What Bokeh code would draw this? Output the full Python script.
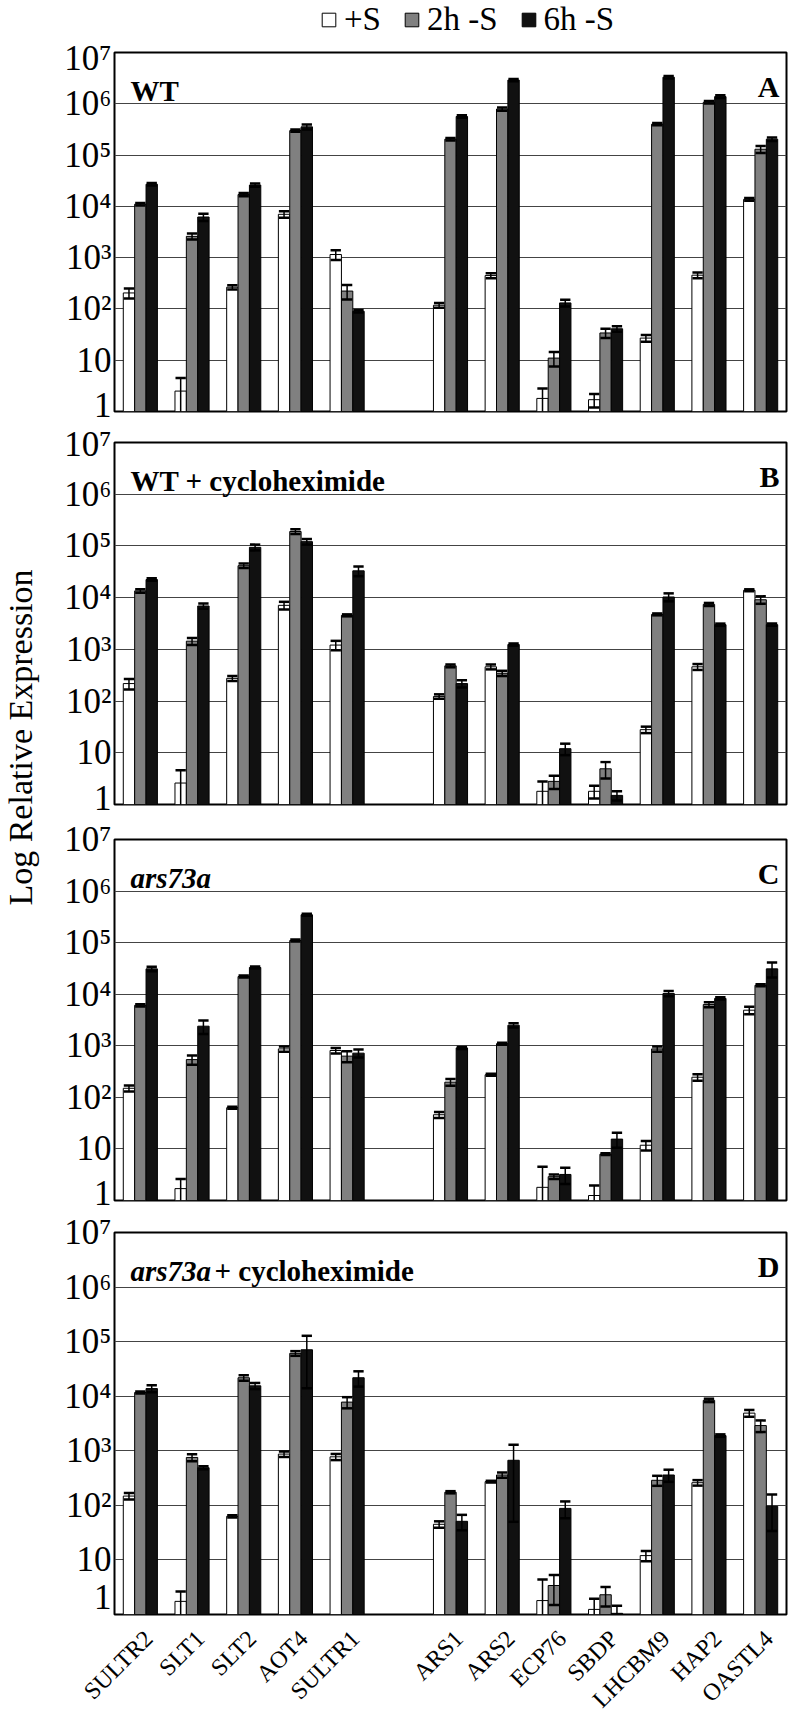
import numpy as np
from bokeh.plotting import figure
from bokeh.models import (ColumnDataSource, FactorRange, Range1d, FixedTicker, Label,
                          Legend, LegendItem)
from bokeh.layouts import row, column
from bokeh.transform import dodge
from bokeh.core.properties import value
from bokeh.embed import file_html
from bokeh.resources import INLINE

# ---------------- data ----------------
genes = ["SULTR2", "SLT1", "SLT2", "AOT4", "SULTR1",
         "ARS1", "ARS2", "ECP76", "SBDP", "LHCBM9", "HAP2", "OASTL4"]
spacer = " "
factors = genes[:5] + [spacer] + genes[5:]
series = ["+S", "2h -S", "6h -S"]
y_ticks = [1, 10, 100, 1000, 10000, 100000, 1000000, 10000000]
y_tick_labels = ["1", "10", "10²", "10³", "10⁴", "10⁵", "10⁶", "10⁷"]
y_title = "Log Relative Expression"

# Panel A: WT
A_plusS = [205, 2.5, 265, 7000, 1150, 118, 447, 1.8, 1.7, 27, 455, 13700]
A_2h = [11000, 2600, 17000, 300000, 223, 204000, 790000, 11, 34, 400000, 1070000, 130000]
A_6h = [27000, 6200, 26000, 355000, 90, 565000, 2900000, 131, 41, 3300000, 1380000, 204000]
A_plusS_err = [45, 2.0, 25, 1000, 250, 12, 50, 1.0, 0.5, 4, 60, 800]
A_2h_err = [600, 350, 1200, 15000, 70, 12000, 60000, 3.5, 7, 20000, 60000, 20000]
A_6h_err = [1500, 1000, 1800, 40000, 5, 30000, 150000, 20, 5, 200000, 80000, 15000]

# Panel B: WT + cycloheximide
B_plusS = [218, 2.6, 275, 7100, 1210, 123, 460, 1.8, 1.8, 28, 460, 13900]
B_2h = [13500, 1440, 41500, 190000, 4550, 480, 345, 2.8, 4.9, 4750, 7400, 9100]
B_6h = [22400, 6900, 94000, 121000, 33000, 218, 1240, 12, 1.5, 10300, 3000, 3000]
B_plusS_err = [50, 2.0, 30, 1200, 250, 12, 50, 1.0, 0.5, 4, 60, 600]
B_2h_err = [1000, 220, 4000, 20000, 200, 30, 40, 0.8, 1.7, 200, 500, 1500]
B_6h_err = [1200, 800, 12000, 15000, 7000, 35, 60, 3, 0.3, 1800, 150, 150]

# Panel C: ars73a
C_plusS = [150, 1.7, 63, 870, 810, 46, 274, 1.8, 1.25, 11.8, 246, 4900]
C_2h = [6100, 540, 22000, 110000, 630, 197, 1100, 2.9, 7.9, 870, 6300, 14900]
C_6h = [31000, 2400, 33000, 347000, 720, 910, 2500, 3.2, 15.5, 10300, 8300, 31000]
C_plusS_err = [20, 0.9, 3, 100, 100, 6, 12, 2.7, 0.7, 2.5, 35, 800]
C_2h_err = [300, 110, 1000, 5000, 150, 30, 50, 0.3, 0.3, 100, 700, 700]
C_6h_err = [3000, 700, 1500, 15000, 130, 40, 250, 1.1, 5, 1200, 400, 10000]

# Panel D: ars73a + cycloheximide
D_plusS = [148, 1.74, 63, 870, 775, 45, 272, 1.8, 1.24, 12, 260, 4900]
D_2h = [11700, 755, 21800, 61000, 7800, 174, 360, 3.4, 2.3, 288, 8400, 2900]
D_6h = [13800, 490, 15500, 71000, 21800, 51, 670, 88, 1.05, 360, 1900, 96]
D_plusS_err = [20, 0.9, 3, 100, 100, 6, 10, 2.6, 0.7, 2.5, 30, 700]
D_2h_err = [500, 110, 2500, 6000, 1800, 8, 40, 1.9, 0.9, 60, 600, 700]
D_6h_err = [2000, 30, 2000, 57000, 6800, 16, 620, 30, 0.4, 90, 100, 62]

# ---------------- style ----------------
SERIF = "Liberation Serif"
FILLS = ["white", "#808080", "#111111"]
BAR_W = 0.22
OFFS = [-0.22, 0.0, 0.22]
CAP_W = 0.20
MAIN_W = 748
BORDER_L = 74
BORDER_R = 2
FRAME_W = MAIN_W - BORDER_L - BORDER_R
TITLE_W = 40
FULL_W = TITLE_W + MAIN_W
H_LEG, H_LAB = 38, 98
# (height, top border, bottom border) of each panel
PANEL_GEOM = {"A": (386, 14, 13), "B": (393, 18, 13), "C": (395, 22, 12), "D": (404, 20, 2)}
LEG_X = 320


def no_align(fig):
    if "frame_align" in fig.properties():
        fig.frame_align = False
    return fig


def make_panel(vals, errs, letter):
    height, top_b, bottom_b = PANEL_GEOM[letter]
    p = figure(x_range=FactorRange(factors=factors, range_padding=0),
               y_range=Range1d(1, 1e7), y_axis_type="log",
               width=MAIN_W, height=height,
               min_border_left=BORDER_L, min_border_right=BORDER_R,
               min_border_top=top_b, min_border_bottom=bottom_b,
               output_backend="svg", toolbar_location=None)
    no_align(p)
    p.outline_line_color = "black"
    p.outline_line_width = 2
    p.xgrid.visible = False
    p.ygrid.ticker = FixedTicker(ticks=y_ticks)
    p.ygrid.grid_line_color = "#444444"
    p.ygrid.grid_line_width = 1
    p.yaxis.ticker = FixedTicker(ticks=y_ticks)
    p.yaxis.major_label_overrides = dict(zip(y_ticks, y_tick_labels))
    p.yaxis.axis_line_color = None
    p.yaxis.major_tick_line_color = None
    p.yaxis.minor_tick_line_color = None
    p.yaxis.major_tick_out = 0
    p.yaxis.minor_tick_out = 0
    p.yaxis.major_label_text_font = SERIF
    p.yaxis.major_label_text_font_size = "35px"
    p.yaxis.major_label_text_color = "black"
    p.yaxis.major_label_standoff = 3
    p.xaxis.visible = False

    data = {"gene": genes}
    for k in range(3):
        v = np.array(vals[k], dtype=float)
        e = np.array(errs[k], dtype=float)
        data[f"v{k}"] = v
        data[f"hi{k}"] = v + e
        data[f"lo{k}"] = np.clip(v - e, 0.3, None)
    src = ColumnDataSource(data)

    for k in range(3):
        p.vbar(x=dodge("gene", OFFS[k], range=p.x_range), top=f"v{k}", bottom=1,
               width=BAR_W, fill_color=FILLS[k], line_color="black",
               line_width=1, source=src)
    for k in range(3):
        xc = dodge("gene", OFFS[k], range=p.x_range)
        p.segment(x0=xc, x1=xc, y0=f"lo{k}", y1=f"hi{k}", line_color="black",
                  line_width=1.5, source=src)
        for end in ("hi", "lo"):
            p.segment(x0=dodge("gene", OFFS[k] - CAP_W / 2, range=p.x_range),
                      x1=dodge("gene", OFFS[k] + CAP_W / 2, range=p.x_range),
                      y0=f"{end}{k}", y1=f"{end}{k}", line_color="black",
                      line_width=2.5, source=src)

    p.add_layout(Label(x=FRAME_W - 7, y=1e7, x_units="screen", y_units="data",
                       y_offset=-34, text=letter, text_align="right",
                       text_baseline="alphabetic", text_font=SERIF,
                       text_font_style="bold", text_font_size="30px",
                       text_color="black"))
    return p


def add_name(p, parts):
    x = 16
    for text, style, dx in parts:
        p.add_layout(Label(x=x, y=1e7, x_units="screen", y_units="data",
                           y_offset=-38, text=text, text_align="left",
                           text_baseline="alphabetic", text_font=SERIF,
                           text_font_style=style, text_font_size="29px",
                           text_color="black"))
        x += dx


def bare(fig):
    no_align(fig)
    fig.outline_line_color = None
    fig.axis.visible = False
    fig.grid.visible = False
    return fig


# ---- legend strip (full width) ----
lf = bare(figure(width=FULL_W, height=H_LEG, x_range=Range1d(0, 1), y_range=Range1d(0, 1),
                 min_border=0, output_backend="svg", toolbar_location=None))
# one hidden sample per series (outside the visible range) so the legend has swatches
leg_src = ColumnDataSource(dict(x=[-5.0], top=[-5.0]))
leg_r = [lf.vbar(x="x", top="top", bottom=-6, width=0.1, fill_color=FILLS[k],
                 line_color="black", line_width=1, source=leg_src) for k in range(3)]
lg = Legend(items=[LegendItem(label=series[k], renderers=[leg_r[k]]) for k in range(3)],
            orientation="horizontal", location=(LEG_X, 0),
            label_text_font=SERIF, label_text_font_size="33px",
            label_text_color="black",
            glyph_width=17, glyph_height=17, label_standoff=7,
            spacing=22, padding=0, margin=0,
            border_line_color=None, background_fill_alpha=0)
lf.add_layout(lg)

pA = make_panel([A_plusS, A_2h, A_6h], [A_plusS_err, A_2h_err, A_6h_err], "A")
add_name(pA, [("WT", "bold", 0)])
pB = make_panel([B_plusS, B_2h, B_6h], [B_plusS_err, B_2h_err, B_6h_err], "B")
add_name(pB, [("WT + cycloheximide", "bold", 0)])
pC = make_panel([C_plusS, C_2h, C_6h], [C_plusS_err, C_2h_err, C_6h_err], "C")
add_name(pC, [("ars73a", "bold italic", 0)])
pD = make_panel([D_plusS, D_2h, D_6h], [D_plusS_err, D_2h_err, D_6h_err], "D")
add_name(pD, [("ars73a", "bold italic", 84), ("+ cycloheximide", "bold", 0)])

# ---- gene label strip (full width), aligned with the panels' category scale ----
slot_px = FRAME_W / len(factors)
left_px = TITLE_W + BORDER_L
gf = bare(figure(width=FULL_W, height=H_LAB,
                 x_range=Range1d(-left_px / slot_px, (FULL_W - left_px) / slot_px),
                 y_range=Range1d(0, H_LAB), min_border=0,
                 output_backend="svg", toolbar_location=None))
gene_pos = [factors.index(g) + 0.5 + 0.16 for g in genes]
gf.text(x=gene_pos, y=[H_LAB - 18] * len(genes), text=genes, angle=np.pi / 4,
        text_align="right", text_baseline="middle", text_font=value(SERIF),
        text_font_size="24px", text_color="black")

# ---- y title ----
PANELS_H = sum(g[0] for g in PANEL_GEOM.values())
tf = bare(figure(width=TITLE_W, height=PANELS_H, x_range=Range1d(0, 1),
                 y_range=Range1d(0, 1), min_border=0,
                 output_backend="svg", toolbar_location=None))
tf.add_layout(Label(x=20, y=PANELS_H - (745 - 8 - H_LEG), x_units="screen",
                    y_units="screen", text=y_title, angle=90, angle_units="deg",
                    text_align="center", text_baseline="middle",
                    text_font=SERIF, text_font_size="34px", text_color="black"))

layout = column(row(lf), row(tf, column(pA, pB, pC, pD)), row(gf))
open("out.html", "w").write(file_html(layout, INLINE))
